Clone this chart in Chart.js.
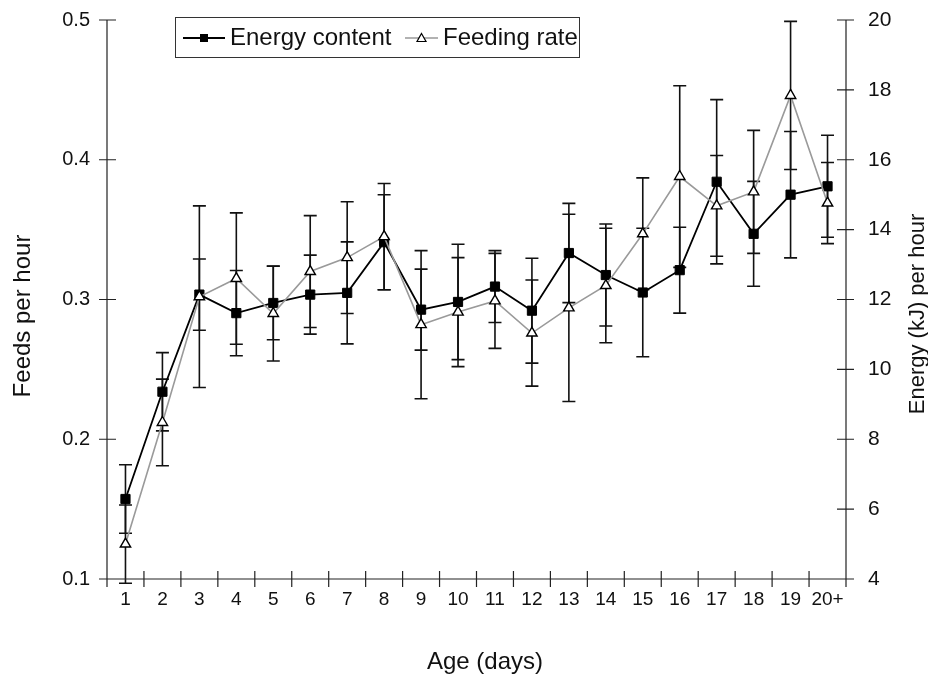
<!DOCTYPE html>
<html>
<head>
<meta charset="utf-8">
<script src="https://cdn.jsdelivr.net/npm/chart.js@4.4.1/dist/chart.umd.min.js"></script>
<style>
    html, body { margin: 0; padding: 0; background: #ffffff; }
    #wrap { width: 928px; height: 677px; }
</style>
</head>
<body>
<div id="wrap"><canvas id="feedChart" width="928" height="677"></canvas></div>
<script>
const ages = ["1", "2", "3", "4", "5", "6", "7", "8", "9", "10",
    "11", "12", "13", "14", "15", "16", "17", "18", "19", "20+"];

// feeding rate (feeds per hour, left axis) with error half-widths
const feedRate = [0.125, 0.212, 0.302, 0.315, 0.290, 0.320, 0.330, 0.345, 0.282, 0.291,
    0.299, 0.276, 0.294, 0.310, 0.347, 0.388, 0.367, 0.377, 0.446, 0.369];
const feedErr = [0.028, 0.031, 0.065, 0.047, 0.034, 0.040, 0.040, 0.038, 0.053, 0.039,
    0.034, 0.038, 0.067, 0.041, 0.040, 0.065, 0.036, 0.044, 0.053, 0.029];

// energy content (kJ per hour, right axis) with error half-widths
const energy = [6.29, 9.36, 12.14, 11.61, 11.90, 12.14, 12.19, 13.64, 11.71, 11.93,
    12.37, 11.68, 13.33, 12.70, 12.20, 12.84, 15.37, 13.88, 15.00, 15.24];
const energyErr = [0.98, 1.12, 1.02, 1.22, 1.05, 1.13, 1.46, 1.36, 1.16, 1.65,
    1.03, 1.50, 1.42, 1.46, 1.84, 1.23, 2.35, 1.50, 1.81, 1.46];

const feedTicks = [0.1, 0.2, 0.3, 0.4, 0.5];
const energyTicks = [4, 6, 8, 10, 12, 14, 16, 18, 20];

const FONT = "'Liberation Sans', Arial, sans-serif";

const errorBars = {
    id: "errorBars",
    beforeDatasetsDraw(chart) {
        const ctx = chart.ctx;
        const x = chart.scales.x;
        const sets = [
            { vals: energy, errs: energyErr, scale: chart.scales.y1 },
            { vals: feedRate, errs: feedErr, scale: chart.scales.y },
        ];
        ctx.save();
        ctx.strokeStyle = "#111111";
        ctx.lineWidth = 1.6;
        sets.forEach(function (s) {
            s.vals.forEach(function (v, i) {
                const px = x.getPixelForValue(i);
                const top = s.scale.getPixelForValue(v + s.errs[i]);
                const bot = s.scale.getPixelForValue(v - s.errs[i]);
                ctx.beginPath();
                ctx.moveTo(px, top);
                ctx.lineTo(px, bot);
                ctx.moveTo(px - 6.5, top);
                ctx.lineTo(px + 6.5, top);
                ctx.moveTo(px - 6.5, bot);
                ctx.lineTo(px + 6.5, bot);
                ctx.stroke();
            });
        });
        ctx.restore();
    },
};

const axisDecor = {
    id: "axisDecor",
    afterDraw(chart) {
        const ctx = chart.ctx;
        const area = chart.chartArea;
        const x = chart.scales.x;
        const y = chart.scales.y;
        const y1 = chart.scales.y1;
        ctx.save();
        ctx.strokeStyle = "#222222";
        ctx.lineWidth = 1.2;
        ctx.beginPath();
        // axis lines
        ctx.moveTo(area.left, area.top);
        ctx.lineTo(area.left, area.bottom);
        ctx.moveTo(area.right, area.top);
        ctx.lineTo(area.right, area.bottom);
        ctx.moveTo(area.left - 8, area.bottom);
        ctx.lineTo(area.right + 8, area.bottom);
        // crossing ticks
        feedTicks.forEach(function (t) {
            const py = y.getPixelForValue(t);
            ctx.moveTo(area.left - 8, py);
            ctx.lineTo(area.left + 9, py);
        });
        energyTicks.forEach(function (t) {
            const py = y1.getPixelForValue(t);
            ctx.moveTo(area.right - 9, py);
            ctx.lineTo(area.right + 8, py);
        });
        for (let i = 0; i <= ages.length; i++) {
            const px = x.getPixelForValue(i - 0.5);
            ctx.moveTo(px, area.bottom - 8);
            ctx.lineTo(px, area.bottom + 8);
        }
        ctx.stroke();

        // axis titles
        ctx.fillStyle = "#111111";
        ctx.font = "24px " + FONT;
        ctx.textAlign = "center";
        ctx.textBaseline = "middle";
        ctx.fillText("Age (days)", 485, 662);
        ctx.save();
        ctx.translate(23, 316);
        ctx.rotate(-Math.PI / 2);
        ctx.fillText("Feeds per hour", 0, 0);
        ctx.restore();
        ctx.save();
        ctx.translate(918, 314);
        ctx.rotate(-Math.PI / 2);
        ctx.font = "22px " + FONT;
        ctx.fillText("Energy (kJ) per hour", 0, 0);
        ctx.restore();

        // legend box
        ctx.lineWidth = 1;
        ctx.strokeStyle = "#333333";
        ctx.strokeRect(175.5, 17.5, 404, 40);
        ctx.lineWidth = 1.8;
        ctx.strokeStyle = "#000000";
        ctx.beginPath();
        ctx.moveTo(183, 38);
        ctx.lineTo(225, 38);
        ctx.stroke();
        ctx.fillStyle = "#000000";
        ctx.fillRect(200, 34, 8, 8);
        ctx.strokeStyle = "#999999";
        ctx.lineWidth = 1.4;
        ctx.beginPath();
        ctx.moveTo(405, 38);
        ctx.lineTo(438, 38);
        ctx.stroke();
        ctx.fillStyle = "#ffffff";
        ctx.strokeStyle = "#000000";
        ctx.lineWidth = 1.2;
        ctx.beginPath();
        ctx.moveTo(421.5, 33.5);
        ctx.lineTo(426, 41.5);
        ctx.lineTo(417, 41.5);
        ctx.closePath();
        ctx.fill();
        ctx.stroke();
        ctx.fillStyle = "#111111";
        ctx.font = "24px " + FONT;
        ctx.textAlign = "left";
        ctx.fillText("Energy content", 230, 38);
        ctx.fillText("Feeding rate", 443, 38);
        ctx.restore();
    },
};

function fixVertical(width) {
    return function (scale) {
        scale.width = width;
        scale.paddingTop = 0;
        scale.paddingBottom = 0;
    };
}

new Chart(document.getElementById("feedChart").getContext("2d"), {
    type: "line",
    data: {
        labels: ages,
        datasets: [
            {
                label: "Feeding rate",
                data: feedRate,
                yAxisID: "y",
                borderColor: "#9a9a9a",
                borderWidth: 1.6,
                pointStyle: "triangle",
                pointRadius: 6,
                pointBackgroundColor: "#ffffff",
                pointBorderColor: "#000000",
                pointBorderWidth: 1.4,
                tension: 0,
            },
            {
                label: "Energy content",
                data: energy,
                yAxisID: "y1",
                borderColor: "#000000",
                borderWidth: 1.8,
                pointStyle: "rect",
                pointRadius: 6.5,
                pointBackgroundColor: "#000000",
                pointBorderColor: "#000000",
                pointBorderWidth: 1,
                tension: 0,
            },
        ],
    },
    options: {
        responsive: false,
        animation: false,
        layout: { padding: { top: 20, left: 0, right: 0, bottom: 0 } },
        plugins: {
            legend: { display: false },
            tooltip: { enabled: false },
        },
        scales: {
            x: {
                offset: true,
                grid: { display: false, drawTicks: false, offset: true },
                border: { display: false },
                ticks: {
                    color: "#111111",
                    font: { family: FONT, size: 19 },
                    padding: 9,
                    maxRotation: 0,
                    autoSkip: false,
                },
                afterFit(scale) {
                    scale.height = 98;
                    scale.paddingLeft = 0;
                    scale.paddingRight = 0;
                },
            },
            y: {
                position: "left",
                min: 0.1,
                max: 0.5,
                grid: { display: false, drawTicks: false },
                border: { display: false },
                ticks: {
                    stepSize: 0.1,
                    color: "#111111",
                    font: { family: FONT, size: 20 },
                    padding: 17,
                    callback: function (v) { return v.toFixed(1); },
                },
                afterFit: fixVertical(107),
            },
            y1: {
                position: "right",
                min: 4,
                max: 20,
                grid: { display: false, drawTicks: false },
                border: { display: false },
                ticks: {
                    stepSize: 2,
                    color: "#111111",
                    font: { family: FONT, size: 21 },
                    padding: 22,
                },
                afterFit: fixVertical(82),
            },
        },
    },
    plugins: [errorBars, axisDecor],
});
</script>
</body>
</html>
